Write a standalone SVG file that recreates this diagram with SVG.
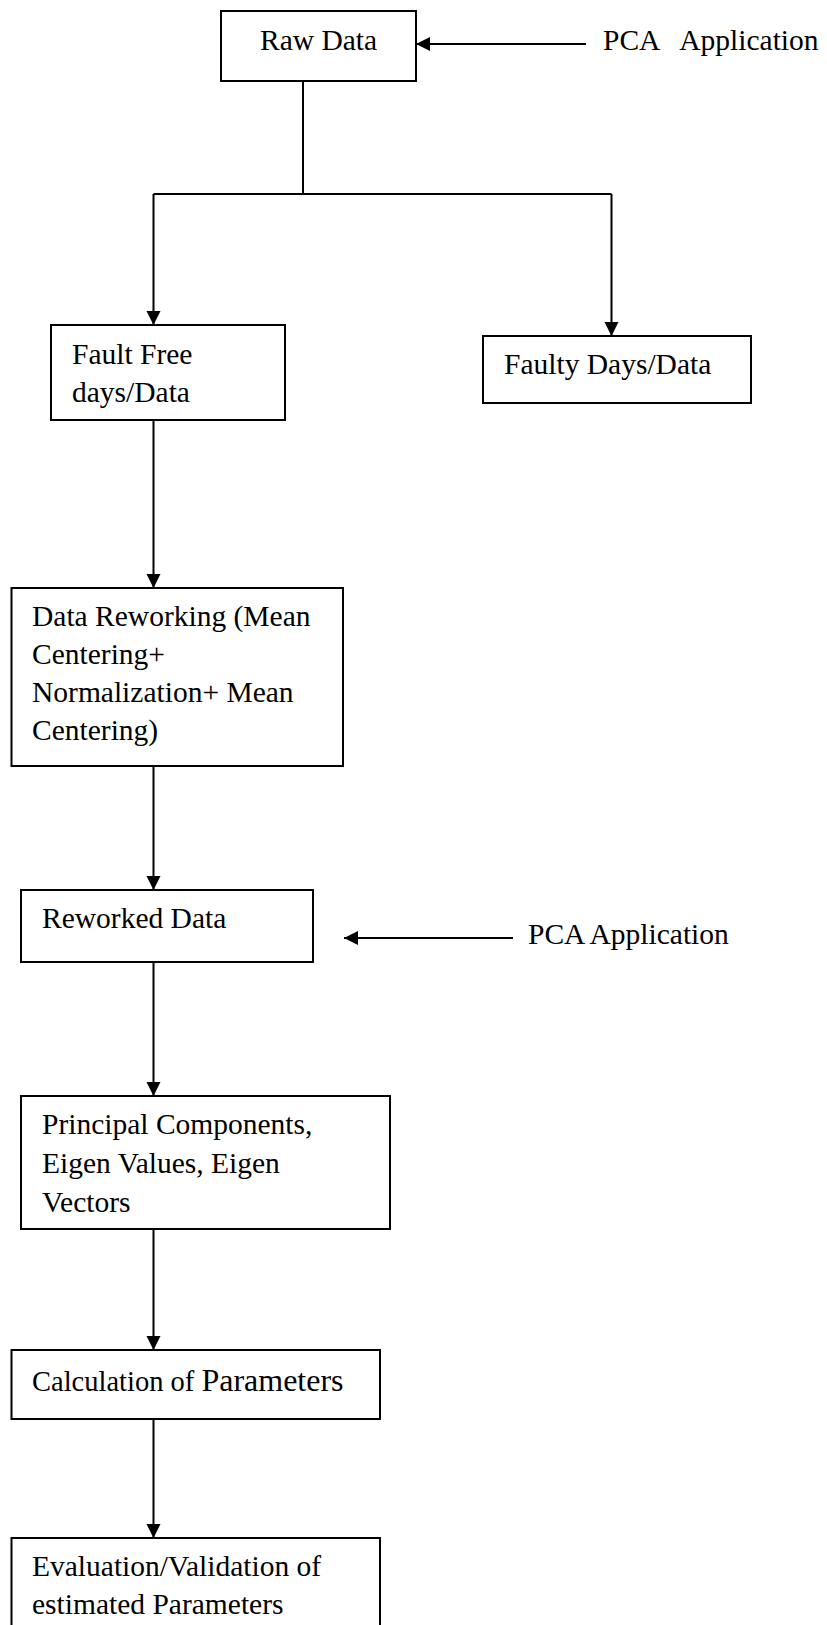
<svg xmlns="http://www.w3.org/2000/svg" width="827" height="1625" viewBox="0 0 827 1625">
<style>
.box{fill:#fff;stroke:#000;stroke-width:2}
.ln{fill:none;stroke:#000;stroke-width:2}
.t{font-family:"Liberation Serif","Times New Roman",serif;font-size:29.5px;fill:#000}
</style>
<defs>
<marker id="ah" markerUnits="userSpaceOnUse" markerWidth="15" markerHeight="15" refX="14" refY="7" orient="auto">
<path d="M0,0 L14,7 L0,14 z" fill="#000"/>
</marker>
</defs>
<rect width="827" height="1625" fill="#fff"/>
<g id="connectors">
<line class="ln" x1="586" y1="44" x2="416" y2="44" marker-end="url(#ah)"/>
<polyline class="ln" points="303,81 303,194"/>
<polyline class="ln" points="153.5,194 611.5,194"/>
<line class="ln" x1="153.5" y1="194" x2="153.5" y2="325" marker-end="url(#ah)"/>
<line class="ln" x1="611.5" y1="194" x2="611.5" y2="336" marker-end="url(#ah)"/>
<line class="ln" x1="153.5" y1="420" x2="153.5" y2="588" marker-end="url(#ah)"/>
<line class="ln" x1="153.5" y1="766" x2="153.5" y2="890" marker-end="url(#ah)"/>
<line class="ln" x1="513" y1="938" x2="344" y2="938" marker-end="url(#ah)"/>
<line class="ln" x1="153.5" y1="962" x2="153.5" y2="1096" marker-end="url(#ah)"/>
<line class="ln" x1="153.5" y1="1229" x2="153.5" y2="1350" marker-end="url(#ah)"/>
<line class="ln" x1="153.5" y1="1419" x2="153.5" y2="1538" marker-end="url(#ah)"/>
</g>
<g id="raw">
<rect class="box" x="221" y="11" width="195" height="70"/>
<text class="t" x="260" y="50">Raw Data</text>
</g>
<g id="pca1">
<text class="t" x="603" y="50" xml:space="preserve">PCA   Application</text>
</g>
<g id="faultfree">
<rect class="box" x="51" y="325" width="234" height="95"/>
<text class="t" x="72" y="364">Fault Free</text>
<text class="t" x="72" y="402">days/Data</text>
</g>
<g id="faulty">
<rect class="box" x="483" y="336" width="268" height="67"/>
<text class="t" x="504" y="374">Faulty Days/Data</text>
</g>
<g id="rework">
<rect class="box" x="11.5" y="588" width="331.5" height="178"/>
<text class="t" x="32" y="626">Data Reworking (Mean</text>
<text class="t" x="32" y="664">Centering+</text>
<text class="t" x="32" y="702">Normalization+ Mean</text>
<text class="t" x="32" y="740">Centering)</text>
</g>
<g id="reworked">
<rect class="box" x="21" y="890" width="292" height="72"/>
<text class="t" x="42" y="928">Reworked Data</text>
</g>
<g id="pca2">
<text class="t" x="528" y="944">PCA Application</text>
</g>
<g id="principal">
<rect class="box" x="21" y="1096" width="369" height="133"/>
<text class="t" x="42" y="1134">Principal Components,</text>
<text class="t" x="42" y="1173">Eigen Values, Eigen</text>
<text class="t" x="42" y="1212">Vectors</text>
</g>
<g id="calc">
<rect class="box" x="11.5" y="1350" width="368.5" height="69"/>
<text class="t" x="32" y="1391"><tspan style="font-size:28.5px">Calculation of </tspan><tspan style="font-size:32px">Parameters</tspan></text>
</g>
<g id="eval">
<path class="ln" d="M11.5,1626 V1538 H380 V1626"/>
<text class="t" x="32" y="1576">Evaluation/Validation of</text>
<text class="t" x="32" y="1614">estimated Parameters</text>
</g>
</svg>
